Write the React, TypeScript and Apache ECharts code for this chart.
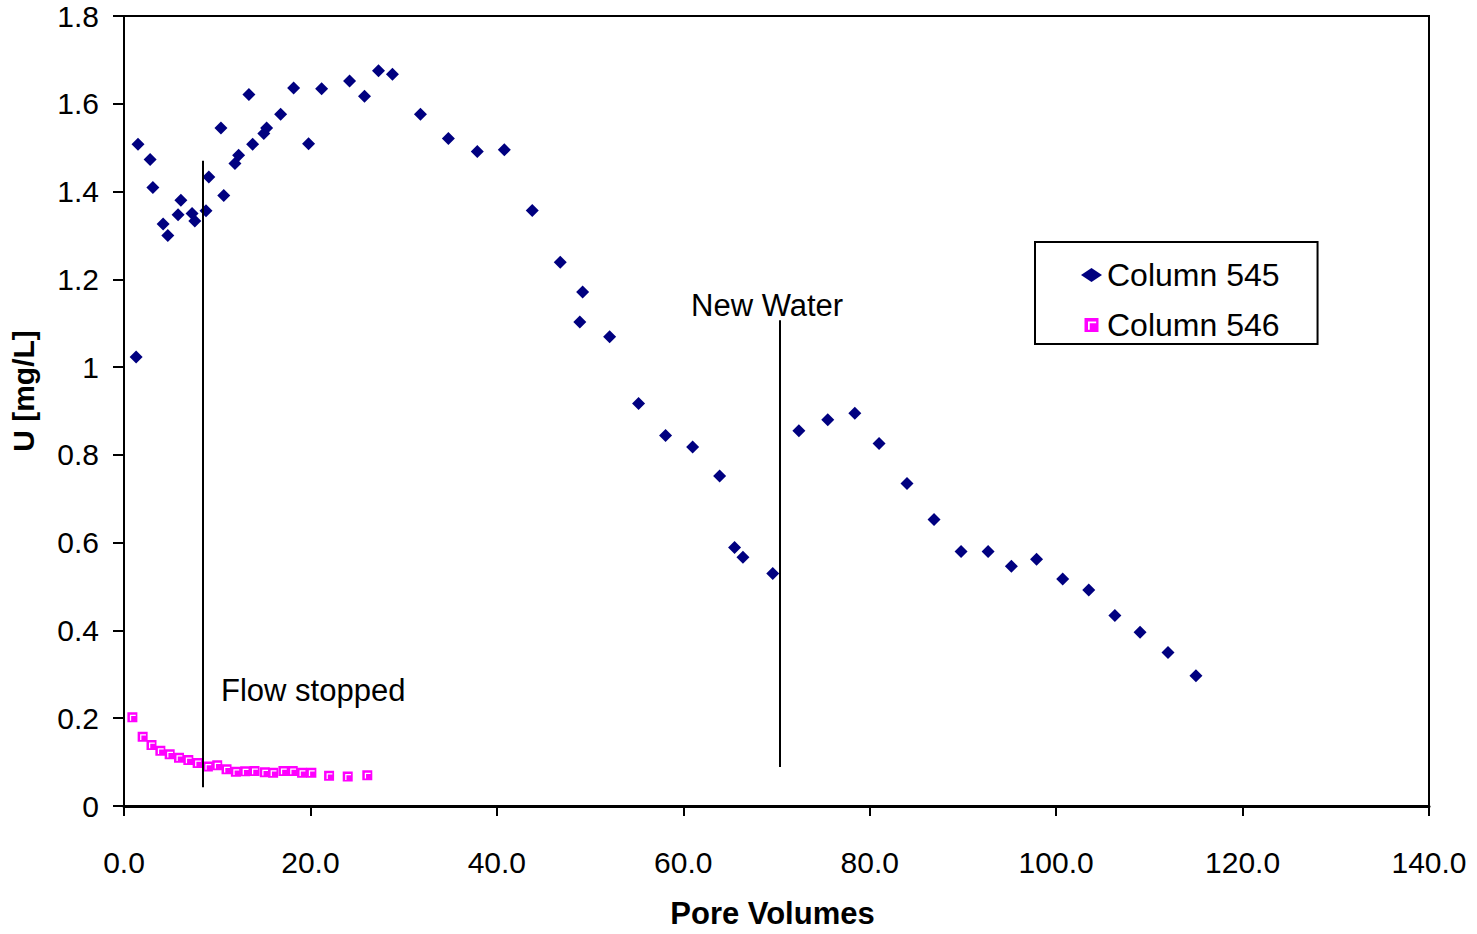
import React, { useEffect, useRef } from "react";
import * as echarts from "echarts";

// Column 545 (pore volumes, U mg/L)
const col545X = [1.3, 1.5, 2.8, 3.1, 4.2, 4.7, 5.8, 6.1, 7.3, 7.6, 8.8, 9.1, 10.7, 10.4, 11.9, 12.3, 13.4, 13.8, 15.0, 15.3, 16.8, 18.2, 19.8, 21.2, 24.2, 25.8, 27.3, 28.8, 31.8, 34.8, 37.9, 40.8, 43.8, 46.8, 49.2, 48.9, 52.1, 55.2, 58.1, 61.0, 63.9, 65.5, 66.4, 69.6, 72.4, 75.5, 78.4, 81.0, 84.0, 86.9, 89.8, 92.7, 95.2, 97.9, 100.7, 103.5, 106.3, 109.0, 112.0, 115.0];
const col545Y = [1.023, 1.508, 1.473, 1.409, 1.326, 1.300, 1.347, 1.380, 1.350, 1.333, 1.356, 1.433, 1.391, 1.545, 1.464, 1.483, 1.621, 1.508, 1.532, 1.545, 1.576, 1.636, 1.509, 1.634, 1.652, 1.617, 1.675, 1.667, 1.576, 1.521, 1.491, 1.495, 1.357, 1.239, 1.171, 1.103, 1.069, 0.917, 0.844, 0.818, 0.752, 0.589, 0.567, 0.530, 0.855, 0.880, 0.895, 0.826, 0.735, 0.653, 0.580, 0.580, 0.546, 0.562, 0.517, 0.492, 0.434, 0.396, 0.350, 0.297];

// Column 546
const col546X = [0.9, 2.0, 2.95, 3.9, 4.9, 5.9, 6.9, 7.9, 9.0, 10.0, 11.0, 12.0, 13.0, 14.0, 15.1, 16.0, 17.1, 18.1, 19.1, 20.1, 22.0, 24.0, 26.1];
const col546Y = [0.202, 0.158, 0.139, 0.126, 0.118, 0.110, 0.105, 0.098, 0.090, 0.093, 0.084, 0.078, 0.079, 0.080, 0.077, 0.076, 0.080, 0.080, 0.076, 0.076, 0.069, 0.067, 0.070];

// Annotation lines: [x, yBottom, yTop]
const flowStoppedLine = [8.4, 0.043, 1.47];
const newWaterLine = [70.3, 0.089, 1.107];

const seriesNames = ["Column 545", "Column 546"];
const xTickMin = 0;
const xTickMax = 140;
const xTickStep = 20;
const yTickMin = 0;
const yTickMax = 1.8;
const yTickStep = 0.2;

const FONT = "'Liberation Sans', Arial, Helvetica, sans-serif";
const squareSymbol =
  "path://M0,0 L12,0 L12,12 L0,12 Z M3,3 L3,10 L4.5,10 L4.5,4.5 L10,4.5 L10,3 Z";

export default function App() {
  const ref = useRef<HTMLDivElement>(null);
  useEffect(() => {
    if (!ref.current) return;
    const chart = echarts.init(ref.current, null, { renderer: "svg" });
    const d545 = col545X.map((x, i) => [x, col545Y[i]]);
    const d546 = col546X.map((x, i) => [x, col546Y[i]]);
    chart.setOption({
      animation: false,
      backgroundColor: "#ffffff",
      grid: {
        left: 123,
        top: 16,
        right: 48,
        bottom: 127,
        show: true,
        borderColor: "#000",
        borderWidth: 2,
        backgroundColor: "transparent",
      },
      legend: {
        orient: "vertical",
        left: 1035,
        top: 242,
        data: [
          { name: seriesNames[0], icon: "diamond" },
          { name: seriesNames[1], icon: squareSymbol },
        ],
        itemWidth: 21,
        itemHeight: 14,
        itemGap: 18,
        borderColor: "#000",
        borderWidth: 2,
        padding: [17, 38, 3, 46],
        textStyle: { fontSize: 32, color: "#000", fontFamily: FONT },
        selectedMode: false,
      },
      xAxis: {
        type: "value",
        min: xTickMin,
        max: xTickMax,
        interval: xTickStep,
        name: "Pore Volumes",
        nameLocation: "middle",
        nameGap: 92,
        nameTextStyle: { fontSize: 31, fontWeight: "bold", color: "#000", fontFamily: FONT, padding: [0, 8, 0, 0] },
        axisLine: { show: true, lineStyle: { color: "#000", width: 3 } },
        axisTick: { show: true, inside: false, length: 10, lineStyle: { color: "#000", width: 2 } },
        axisLabel: {
          fontSize: 30,
          color: "#000",
          fontFamily: FONT,
          margin: 41,
          formatter: (v: number) => v.toFixed(1),
        },
        splitLine: { show: false },
      },
      yAxis: {
        type: "value",
        min: yTickMin,
        max: yTickMax,
        interval: yTickStep,
        name: "U [mg/L]",
        nameLocation: "middle",
        nameGap: 86,
        nameRotate: 90,
        nameTextStyle: {
          fontSize: 30,
          fontWeight: "bold",
          color: "#000",
          fontFamily: FONT,
          padding: [0, 0, 0, 40],
        },
        axisLine: { show: true, lineStyle: { color: "#000", width: 2 } },
        axisTick: { show: true, inside: false, length: 11, lineStyle: { color: "#000", width: 2 } },
        axisLabel: {
          fontSize: 30,
          color: "#000",
          fontFamily: FONT,
          margin: 25,
          formatter: (v: number) => String(Math.round(v * 10) / 10),
        },
        splitLine: { show: false },
      },
      series: [
        {
          name: seriesNames[0],
          type: "scatter",
          data: d545,
          symbol: "diamond",
          symbolSize: [13, 13],
          itemStyle: { color: "#000080", opacity: 1 },
          markLine: {
            silent: true,
            symbol: ["none", "none"],
            label: { show: false },
            lineStyle: { color: "#000", width: 2, type: "solid", opacity: 1 },
            data: [
              [
                { coord: [flowStoppedLine[0], flowStoppedLine[1]] },
                { coord: [flowStoppedLine[0], flowStoppedLine[2]] },
              ],
              [
                { coord: [newWaterLine[0], newWaterLine[1]] },
                { coord: [newWaterLine[0], newWaterLine[2]] },
              ],
            ],
          },
        },
        {
          name: seriesNames[1],
          type: "scatter",
          data: d546,
          symbol: squareSymbol,
          symbolSize: 10,
          itemStyle: { color: "#FF00FF", opacity: 1 },
        },
      ],
      graphic: [
        {
          type: "text",
          x: 221,
          y: 690,
          style: {
            text: "Flow stopped",
            fontSize: 31,
            fontFamily: FONT,
            fill: "#000",
            verticalAlign: "middle",
            align: "left",
          },
        },
        {
          type: "text",
          x: 691,
          y: 305,
          style: {
            text: "New Water",
            fontSize: 31,
            fontFamily: FONT,
            fill: "#000",
            verticalAlign: "middle",
            align: "left",
          },
        },
      ],
    });
    return () => chart.dispose();
  }, []);
  return (
    <div
      ref={ref}
      style={{ position: "fixed", left: 0, top: 0, width: 1477, height: 934, background: "#fff" }}
    />
  );
}
